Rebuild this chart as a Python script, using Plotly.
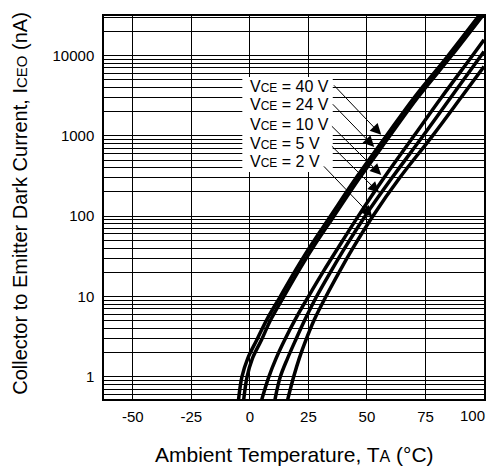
import math
import plotly.graph_objects as go

# temperature (degC) / dark current (nA)
temp_40v = [-4.9, -3.4, -0.9, 3.0, 7.3, 13.0, 19.4, 25.3, 34.4, 45.4, 58.3, 70.2, 84.7, 99.1]
iceo_40v = [0.5, 1.0, 1.7, 2.9, 5.2, 10, 21, 40, 100, 300, 1000, 3000, 10000, 35000]

temp_24v = [-2.7, -1.2, 1.1, 5.0, 9.0, 14.5, 20.9, 26.8, 35.9, 46.9, 59.8, 71.7, 86.2, 100]
iceo_24v = [0.5, 1.0, 1.7, 2.9, 5.2, 10, 21, 40, 100, 300, 1000, 3000, 10000, 33000]

temp_10v = [4.9, 8.1, 11.2, 14.9, 19.4, 25.0, 31.6, 37.6, 46.3, 57.3, 70.1, 81.8, 95.1, 100]
iceo_10v = [0.5, 1.0, 1.7, 2.9, 5.2, 10, 21, 40, 100, 300, 1000, 3000, 10000, 15700]

temp_5v = [10.6, 13.0, 16.1, 19.6, 23.6, 28.5, 34.8, 40.5, 49.2, 60.7, 74.0, 85.8, 100]
iceo_5v = [0.5, 1.0, 1.7, 2.9, 5.2, 10, 21, 40, 100, 300, 1000, 3000, 11200]

temp_2v = [16.0, 18.7, 21.1, 24.0, 27.6, 32.5, 38.5, 44.0, 52.5, 64.0, 78.0, 90.2, 100]
iceo_2v = [0.5, 1.0, 1.7, 2.9, 5.2, 10, 21, 40, 100, 300, 1000, 3000, 7300]

x_ticks = [-50, -25, 0, 25, 50, 75, 100]
decades = [1, 10, 100, 1000, 10000]

labels = ["40", "24", "10", "5", "2"]
# where each arrow points (T, nA) and where it starts
arrow_head = [(56.1, 1028), (53.1, 728), (56.1, 326), (55.2, 195), (52.3, 98)]
arrow_tail = [(35.3, 4440), (34.8, 2580), (34.4, 1370), (34.4, 773), (31.0, 435)]
label_y = [0.817, 0.768, 0.718, 0.667, 0.619]

FONT = "Liberation Sans, Arial, sans-serif"

fig = go.Figure()
for t, i in [(temp_40v, iceo_40v), (temp_24v, iceo_24v), (temp_10v, iceo_10v),
             (temp_5v, iceo_5v), (temp_2v, iceo_2v)]:
    fig.add_trace(go.Scatter(x=t, y=i, mode="lines", line=dict(color="black", width=3.5, shape="spline"),
                             showlegend=False, hoverinfo="skip"))

# log grid: every 1..9 step of each decade
y_grid = []
y_text = []
for d in [0.1] + decades:
    for k in range(1, 10):
        v = round(d * k, 6)
        if 0.53 <= v <= 31000:
            y_grid.append(v)
            y_text.append(str(int(v)) if v in decades else "")

# last x label sits on the page edge, it is drawn as an annotation below
x_text = [str(v) for v in x_ticks[:-1]] + [""]

fig.update_xaxes(range=[-62.3, 100], tickvals=x_ticks, ticktext=x_text,
                 showgrid=True, gridcolor="black", gridwidth=1, zeroline=False,
                 showline=True, linecolor="black", linewidth=1.5, mirror=True,
                 ticks="outside", ticklen=3, tickcolor="rgba(0,0,0,0)",
                 tickfont=dict(size=15, color="black", family=FONT))
fig.update_yaxes(type="log", range=[math.log10(0.53), math.log10(31000)], tickvals=y_grid, ticktext=y_text,
                 showgrid=True, gridcolor="black", gridwidth=1, zeroline=False,
                 showline=True, linecolor="black", linewidth=1.5, mirror=True,
                 ticks="outside", ticklen=5, tickcolor="rgba(0,0,0,0)",
                 tickfont=dict(size=15, color="black", family=FONT))

fig.add_annotation(xref="paper", yref="paper", x=1.0052, y=-0.0418, xanchor="right", yanchor="middle",
                   text=str(x_ticks[-1]), showarrow=False, borderpad=0,
                   font=dict(size=15, color="black", family=FONT))

# white box behind the labels
fig.add_shape(type="rect", xref="paper", yref="paper", x0=0.364, x1=0.602, y0=0.593, y1=0.841,
              fillcolor="white", line=dict(width=0), layer="above")

for lab, ly, (hx, hy), (tx, ty) in zip(labels, label_y, arrow_head, arrow_tail):
    fig.add_annotation(xref="paper", yref="paper", x=0.380, y=ly, xanchor="left", yanchor="middle",
                       text="V<span style='font-size:12px'>CE</span> = " + lab + " V",
                       showarrow=False, font=dict(size=16, color="black", family=FONT))
    fig.add_annotation(xref="x", yref="y", x=hx, y=math.log10(hy), axref="x", ayref="y",
                       ax=tx, ay=math.log10(ty), text="", showarrow=True,
                       arrowhead=2, arrowsize=2.2, arrowwidth=1, arrowcolor="black")

fig.add_annotation(xref="paper", yref="paper", x=0.5, y=-0.146, xanchor="center", yanchor="middle",
                   text="Ambient Temperature, T<span style='font-size:16px'>A</span> (°C)",
                   showarrow=False, borderpad=0, font=dict(size=21, color="black", family=FONT))
fig.add_annotation(xref="paper", yref="paper", x=-0.2213, y=0.512, xanchor="center", yanchor="middle",
                   textangle=-90, borderpad=0,
                   text="Collector to Emitter Dark Current, I<span style='font-size:15px'>CEO</span> (nA)",
                   showarrow=False, font=dict(size=20, color="black", family=FONT))

# page body adds an 8px margin, so the figure is sized to fit inside it
fig.update_layout(width=480, height=460, margin=dict(l=96, r=2, t=8, b=69),
                  paper_bgcolor="white", plot_bgcolor="white", font=dict(family=FONT, color="black"))

fig.write_html("out.html")
